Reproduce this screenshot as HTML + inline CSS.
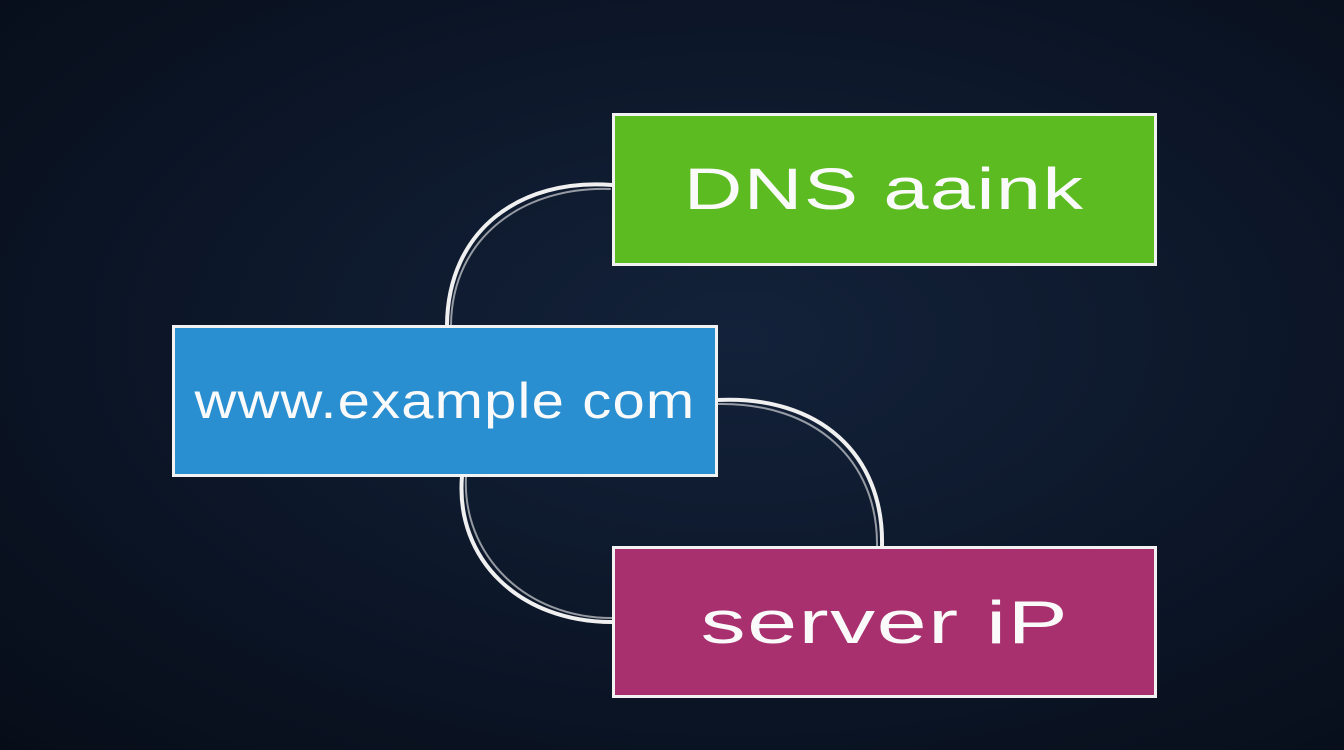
<!DOCTYPE html>
<html><head><meta charset="utf-8"><style>
html,body{margin:0;padding:0;}
body{width:1344px;height:750px;overflow:hidden;position:relative;
background:radial-gradient(ellipse at 55% 45%,#13223a 0%,#0c1628 55%,#070d18 100%);
font-family:"Liberation Sans",sans-serif;}
.box{position:absolute;border:3px solid #f2f2f2;box-sizing:border-box;color:#fafafa;
display:flex;align-items:center;justify-content:center;font-weight:normal;letter-spacing:1px;}
.box span{display:inline-block;}
</style></head><body>
<svg width="1344" height="750" style="position:absolute;left:0;top:0">
<g fill="none" stroke="#f0f0f0" stroke-width="4" stroke-linecap="round">
<path d="M612 185 C520 178 448 230 447 325"/>
<path d="M610 189 C525 186 452 236 451 325" stroke-width="2" opacity="0.6"/>
<path d="M717 400 C820 395 884 455 882 546"/>
<path d="M717 404 C815 402 878 460 877 546" stroke-width="2" opacity="0.6"/>
<path d="M462 476 C455 560 520 622 612 622"/>
<path d="M466 476 C462 555 525 618 612 618" stroke-width="2" opacity="0.6"/>
</g>
</svg>
<div class="box" style="left:612px;top:113px;width:545px;height:153px;background:#5bbb21;font-size:58px;"><span style="transform:scaleX(1.4)">DNS aaink</span></div>
<div class="box" style="left:172px;top:325px;width:546px;height:152px;background:#2a8fd0;font-size:50px;"><span style="transform:scaleX(1.16)">www.example com</span></div>
<div class="box" style="left:612px;top:546px;width:545px;height:152px;background:#a8306f;font-size:60px;"><span style="transform:scaleX(1.5)">server iP</span></div>
</body></html>
